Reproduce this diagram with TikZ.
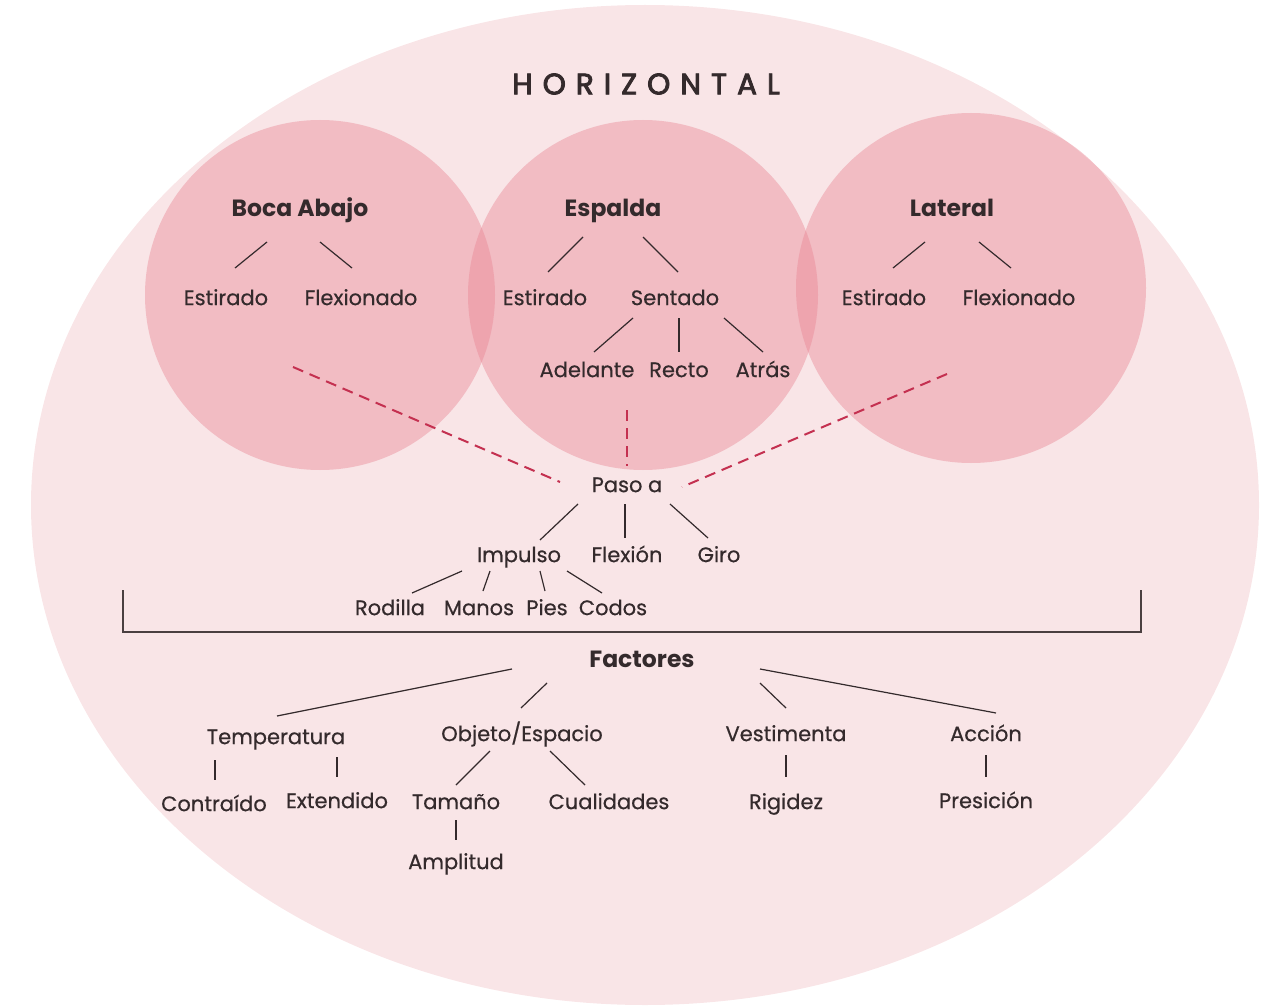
\documentclass[tikz,border=0pt]{standalone}
\usepackage{fontspec}
\setmainfont{Poppins}
\newfontfamily\titlefont[LetterSpace=34,FakeBold=3]{Poppins}
\newfontfamily\lblfont[FakeBold=0.5]{Poppins}
\definecolor{bigfill}{RGB}{249,229,231}
\definecolor{circfill}{RGB}{233,134,148}
\definecolor{ink}{RGB}{52,42,44}
\definecolor{dashcol}{RGB}{196,48,80}
\definecolor{brack}{RGB}{74,63,64}
\newcommand{\link}[4]{\draw[conn] ([shift={(#2)}]#1.center) -- ([shift={(#4)}]#3.center);}
\newcommand{\dlink}[4]{\draw[dashconn] ([shift={(#2)}]#1.center) -- ([shift={(#4)}]#3.center);}
\begin{document}
\begin{tikzpicture}[x=1pt,y=-1pt,
  lbl/.style={inner sep=0pt, text=ink, font=\fontsize{21}{24}\lblfont, text height=14.5pt, text depth=2.3pt},
  head/.style={lbl, font=\fontsize{23.5}{26}\bfseries\selectfont, text height=15pt},
  circ/.style={circle, fill=circfill, fill opacity=0.43, minimum size=350pt, inner sep=0pt},
  conn/.style={draw=ink, line width=1.2pt},
  dashconn/.style={draw=dashcol, line width=2pt, dash pattern=on 11pt off 7pt}]
\useasboundingbox (0,0) rectangle (1267,1006);
% big ellipse
\fill[bigfill] (645,505) ellipse [x radius=614, y radius=500];
% circles
\node[circ] (c1) at (320,295) {};
\node[circ] (c2) at (643,295) {};
\node[circ] (c3) at (971,288) {};
% title
\node[inner sep=0pt, text=ink, font=\fontsize{29.5}{32}\titlefont] (title) at (646,84) {HORIZONTAL};
% headers
\node[head] (boca) at (300,210) {Boca Abajo};
\node[head] (esp) at (613,210) {Espalda};
\node[head] (lat) at (952,210) {Lateral};
\node[lbl] (bE) at (226,299) {Estirado};
\node[lbl] (bF) at (361,299) {Flexionado};
\node[lbl] (eE) at (545,299) {Estirado};
\node[lbl] (eS) at (675,299) {Sentado};
\node[lbl] (lE) at (884,299) {Estirado};
\node[lbl] (lF) at (1019,299) {Flexionado};
\node[lbl] (ad) at (587,371) {Adelante};
\node[lbl] (re) at (679,371) {Recto};
\node[lbl] (at) at (763,371) {Atrás};
\node[lbl] (paso) at (627,486) {Paso a};
\node[lbl] (imp) at (519,556) {Impulso};
\node[lbl] (flex) at (627,556) {Flexión};
\node[lbl] (giro) at (719,556) {Giro};
\node[lbl] (rod) at (390,609) {Rodilla};
\node[lbl] (man) at (479,609) {Manos};
\node[lbl] (pies) at (547,609) {Pies};
\node[lbl] (cod) at (613,609) {Codos};
\node[head] (fac) at (642,661) {Factores};
\node[lbl] (temp) at (276,738) {Temperatura};
\node[lbl] (obj) at (522,735) {Objeto/Espacio};
\node[lbl] (vest) at (786,735) {Vestimenta};
\node[lbl] (acc) at (986,735) {Acción};
\node[lbl] (cont) at (214,805) {Contraído};
\node[lbl] (ext) at (337,802) {Extendido};
\node[lbl] (tam) at (456,803) {Tamaño};
\node[lbl] (cual) at (609,803) {Cualidades};
\node[lbl] (rig) at (786,803) {Rigidez};
\node[lbl] (pres) at (986,802) {Presición};
\node[lbl] (amp) at (456,863) {Amplitud};
% connectors
\link{boca}{-33,32}{bE}{9,-31}
\link{boca}{20,32}{bF}{-9,-31}
\link{esp}{-30,27}{eE}{3,-27}
\link{esp}{30,27}{eS}{3,-27}
\link{eS}{-42,19}{ad}{7,-19}
\link{eS}{4,19}{re}{0,-19}
\link{eS}{49,19}{at}{0,-19}
\link{lat}{-27,32}{lE}{9,-31}
\link{lat}{27,32}{lF}{-8,-31}
\dlink{c1}{-27,72}{paso}{-67,-4}
\dlink{c2}{-16,115}{paso}{0,-20}
\dlink{c3}{-24,86}{paso}{55,1}
\link{paso}{-49,18}{imp}{21,-16}
\link{paso}{-2,18}{flex}{-2,-18}
\link{paso}{43,18}{giro}{-11,-18}
\link{imp}{-57,15}{rod}{22,-16}
\link{imp}{-29,15}{man}{4,-18}
\link{imp}{21,15}{pies}{-2,-18}
\link{imp}{48,15}{cod}{-11,-16}
\link{fac}{-130,8}{temp}{1,-22}
\link{fac}{-95,22}{obj}{-1,-27}
\link{fac}{118,22}{vest}{0,-27}
\link{fac}{118,8}{acc}{10,-22}
\link{temp}{-61,22}{cont}{1,-25}
\link{temp}{61,19}{ext}{0,-25}
\link{obj}{-32,16}{tam}{0,-18}
\link{obj}{28,16}{cual}{-24,-18}
\link{tam}{0,17}{amp}{0,-23}
\link{vest}{0,20}{rig}{0,-26}
\link{acc}{0,20}{pres}{0,-25}
% bracket
\coordinate (bl) at (123,590);
\coordinate (br) at (1141,590);
\draw[draw=brack, line width=1.8pt] (bl) |- (br |- 0,632) -- (br);
\end{tikzpicture}
\end{document}
